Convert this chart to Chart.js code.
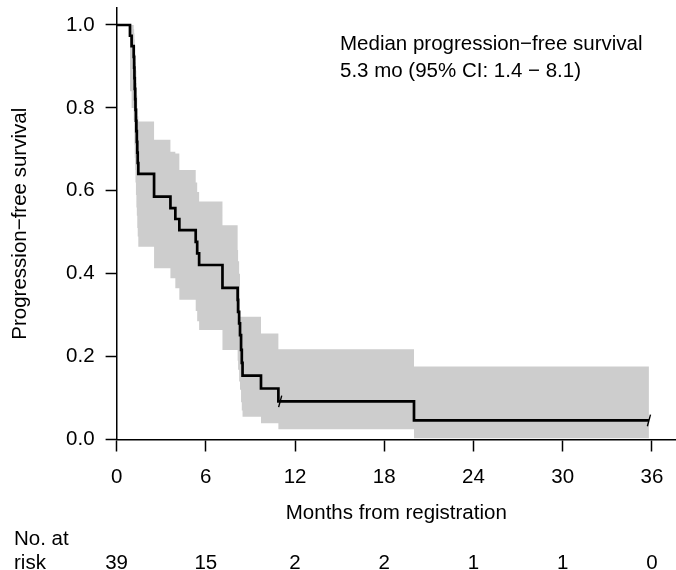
<!DOCTYPE html>
<html>
<head>
<meta charset="utf-8">
<script src="https://cdn.jsdelivr.net/npm/chart.js@4/dist/chart.umd.min.js"></script>
<style>
  html, body { margin: 0; padding: 0; background: #ffffff; }
  #wrap { width: 676px; height: 570px; position: relative; }
</style>
</head>
<body>
<div id="wrap"><canvas id="c" width="676" height="570"></canvas></div>
<script>
// ---- data ----
const times = [0, 0.90, 1.01, 1.15, 1.18, 1.20, 1.22, 1.25, 1.27, 1.30, 1.33, 1.36, 1.39, 1.42, 1.46,
  2.52, 3.62, 3.95, 4.22, 5.32, 5.42, 5.55, 7.12, 8.14, 8.17, 8.24, 8.30, 8.37, 8.42, 8.47,
  9.71, 10.88, 20.0, 35.8];
const survival = [1, 0.974, 0.949, 0.923, 0.897, 0.872, 0.846, 0.821, 0.795, 0.769, 0.744, 0.718, 0.692, 0.667, 0.641,
  0.586, 0.558, 0.532, 0.505, 0.477, 0.449, 0.421, 0.366, 0.337, 0.308, 0.280, 0.252, 0.216, 0.185, 0.154,
  0.123, 0.092, 0.046, 0.046];
const upperCI = [1, 1, 1, 0.99, 0.98, 0.965, 0.95, 0.93, 0.91, 0.89, 0.86, 0.83, 0.80, 0.78, 0.767,
  0.723, 0.694, 0.690, 0.650, 0.620, 0.597, 0.574, 0.517, 0.457, 0.430, 0.400, 0.296, 0.296, 0.296, 0.296,
  0.256, 0.218, 0.176, 0.176];
const lowerCI = [1, 0.84, 0.80, 0.77, 0.74, 0.71, 0.68, 0.65, 0.62, 0.59, 0.56, 0.54, 0.51, 0.49, 0.465,
  0.413, 0.389, 0.365, 0.337, 0.310, 0.285, 0.264, 0.216, 0.190, 0.168, 0.140, 0.120, 0.090, 0.070, 0.055,
  0.039, 0.025, 0.003, 0.003];
const censorTimes = [11.0, 35.8];
const censorSurvival = [0.092, 0.046];
const xTicks = [0, 6, 12, 18, 24, 30, 36];
const yTicks = [0, 0.2, 0.4, 0.6, 0.8, 1.0];
const riskTimes = [0, 6, 12, 18, 24, 30, 36];
const riskCounts = [39, 15, 2, 2, 1, 1, 0];
const riskLabel = ['No. at', 'risk'];
const xTitle = 'Months from registration';
const yTitle = 'Progression\u2212free survival';
const medianText = ['Median progression\u2212free survival', '5.3 mo (95% CI: 1.4 \u2212 8.1)'];

// ---- chart ----
const FONT = '"Liberation Sans", Arial, Helvetica, sans-serif';
const FS = 20.5;
Chart.defaults.font.family = FONT;
Chart.defaults.font.size = FS;
Chart.defaults.color = '#000';

const pts = (xs, ys) => xs.map((x, i) => ({ x: x, y: ys[i] }));

const textPlugin = {
  id: 'texts',
  afterDraw(chart) {
    const ctx = chart.ctx;
    const xs = chart.scales.x;
    ctx.save();
    ctx.fillStyle = '#000';
    ctx.font = FS + 'px ' + FONT;
    ctx.textBaseline = 'alphabetic';
    ctx.textAlign = 'left';
    ctx.fillText(medianText[0], 340, 50);
    ctx.fillText(medianText[1], 340, 77);
    ctx.fillText(riskLabel[0], 14, 545);
    ctx.fillText(riskLabel[1], 14, 569);
    ctx.textAlign = 'center';
    riskTimes.forEach((t, i) => ctx.fillText(String(riskCounts[i]), xs.getPixelForValue(t), 569));
    ctx.restore();
  }
};

new Chart(document.getElementById('c'), {
  type: 'line',
  data: {
    datasets: [
      { data: pts(times, survival), stepped: 'before', borderColor: '#000', borderWidth: 2.7,
        pointRadius: 0, fill: false, borderCapStyle: 'butt', borderJoinStyle: 'miter' },
      { data: pts(censorTimes, censorSurvival), showLine: false, pointStyle: 'line', pointRadius: 6,
        rotation: -75, borderColor: '#000', pointBorderColor: '#000', pointBorderWidth: 1.4, borderWidth: 1.4 },
      { data: pts(times, upperCI), stepped: 'before', borderWidth: 0, borderColor: 'rgba(0,0,0,0)',
        pointRadius: 0, fill: '+1', backgroundColor: '#cdcdcd' },
      { data: pts(times, lowerCI), stepped: 'before', borderWidth: 0, borderColor: 'rgba(0,0,0,0)',
        pointRadius: 0, fill: false }
    ]
  },
  options: {
    responsive: false,
    devicePixelRatio: 1,
    animation: false,
    events: [],
    layout: { autoPadding: false, padding: { left: 0, right: 0, top: 8, bottom: 40 } },
    plugins: { legend: { display: false }, tooltip: { enabled: false } },
    scales: {
      x: {
        type: 'linear', min: 0, max: 37.62,
        afterBuildTicks: s => { s.ticks = xTicks.map(v => ({ value: v })); },
        afterFit: s => { s.height = 90.5; s.paddingLeft = 0; s.paddingRight = 0; },
        ticks: { padding: 14, maxRotation: 0, autoSkip: false, font: { size: FS } },
        grid: { drawOnChartArea: false, drawTicks: true, tickLength: 12, tickColor: '#000', tickWidth: 1.5 },
        border: { display: true, color: '#000', width: 1.5 },
        title: { display: true, text: xTitle, padding: { top: 0, bottom: 4 }, font: { size: FS } }
      },
      y: {
        type: 'linear', min: 0, max: 1.041,
        afterBuildTicks: s => { s.ticks = yTicks.map(v => ({ value: v })); },
        afterFit: s => { s.width = 116.6; s.paddingTop = 0; s.paddingBottom = 0; },
        ticks: { padding: 11, autoSkip: false, font: { size: FS }, callback: v => Number(v).toFixed(1) },
        grid: { drawOnChartArea: false, drawTicks: true, tickLength: 11, tickColor: '#000', tickWidth: 1.5 },
        border: { display: true, color: '#000', width: 1.5 },
        title: { display: true, text: yTitle, padding: { top: 8, bottom: 0 }, font: { size: FS } }
      }
    }
  },
  plugins: [textPlugin]
});
</script>
</body>
</html>
